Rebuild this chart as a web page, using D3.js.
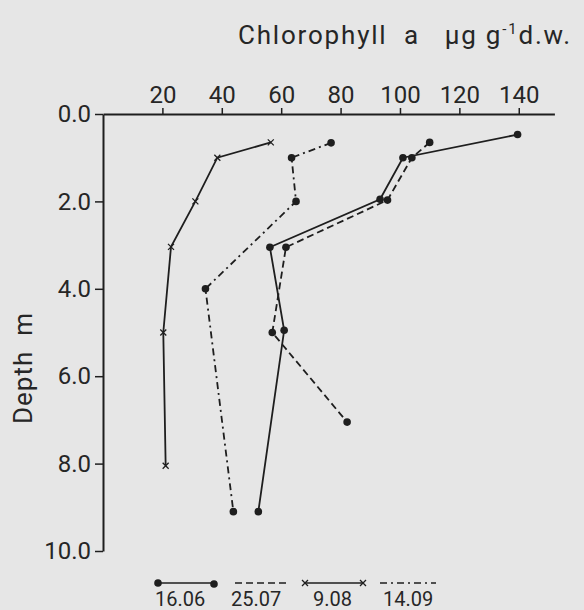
<!DOCTYPE html>
<html><head><meta charset="utf-8">
<script src="https://cdn.jsdelivr.net/npm/d3@7"></script>
<style>
html,body{margin:0;padding:0;background:#e6e6e6;}
svg{display:block;}
text{font-family:Roboto,"Noto Sans",sans-serif;fill:#262626;}
</style></head>
<body>
<script>
// ---- data ----
const seriesNames = ["16.06", "25.07", "9.08", "14.09"];
const depth_1606 = [0.47, 1.0, 1.95, 3.05, 4.95, 9.1];
const chl_1606   = [139.6, 101, 93.3, 56.2, 61, 52.3];
const depth_2507 = [0.65, 1.0, 1.97, 3.05, 5.0, 7.05];
const chl_2507   = [110, 104, 95.8, 61.6, 57, 82.2];
const depth_0908 = [0.65, 1.0, 2.0, 3.04, 5.0, 8.05];
const chl_0908   = [56.5, 38.5, 31.1, 22.9, 20.3, 21.1];
const depth_1409 = [0.66, 1.0, 2.0, 4.0, 9.1];
const chl_1409   = [76.8, 63.5, 65, 34.5, 43.9];
const xTicks = [20, 40, 60, 80, 100, 120, 140];
const yTicks = [0, 2, 4, 6, 8, 10];

const W = 584, H = 610;
const ink = "#1e1e1e";
const txt = "#262626";
const svg = d3.select("body").append("svg").attr("width", W).attr("height", H);
svg.append("rect").attr("width", W).attr("height", H).attr("fill", "#e6e6e6");

const x = d3.scaleLinear().domain([0, 152]).range([103, 554.4]);
const y = d3.scaleLinear().domain([0, 10]).range([114, 551]);

// axes
const gx = svg.append("g").attr("transform", `translate(0,${y(0)})`)
  .call(d3.axisTop(x).tickValues(xTicks).tickSize(6).tickPadding(5).tickSizeOuter(0));
const gy = svg.append("g").attr("transform", `translate(${x(0)},0)`)
  .call(d3.axisLeft(y).tickValues(yTicks).tickFormat(d3.format(".1f")).tickSize(8).tickPadding(4).tickSizeOuter(0));
[gx, gy].forEach(g => {
  g.select(".domain").attr("stroke", ink).attr("stroke-width", 2);
  g.selectAll(".tick line").attr("stroke", ink).attr("stroke-width", 1.5);
  g.selectAll(".tick text").attr("font-size", 24).attr("fill", txt)
    .style("font-family", "Roboto, sans-serif");
});

// title
const title = svg.append("text").attr("x", 572).attr("y", 44).attr("text-anchor", "end")
  .attr("font-size", 26).style("white-space", "pre").style("letter-spacing", "1.8px");
title.append("tspan").text("Chlorophyll  a   µg g");
title.append("tspan").attr("dy", -10).attr("font-size", 15).text("-1");
title.append("tspan").attr("dy", 10).text("d.w.");

svg.append("text").attr("transform", `translate(32,368) rotate(-90)`)
  .attr("text-anchor", "middle").attr("font-size", 26)
  .style("white-space", "pre").style("letter-spacing", "1px")
  .text("Depth  m");

// series
const series = [
  {name: seriesNames[0], d: depth_1606, v: chl_1606, dash: null, marker: "dot"},
  {name: seriesNames[1], d: depth_2507, v: chl_2507, dash: "7,4", marker: "dot"},
  {name: seriesNames[2], d: depth_0908, v: chl_0908, dash: null, marker: "cross"},
  {name: seriesNames[3], d: depth_1409, v: chl_1409, dash: "7,4,2,4", marker: "dot"}
];
const line = d3.line().x(p => x(p[0])).y(p => y(p[1]));
series.forEach(s => {
  const pts = s.v.map((v, i) => [v, s.d[i]]);
  svg.append("path").attr("d", line(pts)).attr("fill", "none")
    .attr("stroke", ink).attr("stroke-width", 1.8)
    .attr("stroke-dasharray", s.dash);
  pts.forEach(p => drawMarker(s.marker, x(p[0]), y(p[1])));
});

function drawMarker(type, cx, cy) {
  if (type === "dot") {
    svg.append("circle").attr("cx", cx).attr("cy", cy).attr("r", 3.8).attr("fill", ink);
  } else {
    const r = 3;
    svg.append("path").attr("d", `M${cx-r},${cy-r}L${cx+r},${cy+r}M${cx-r},${cy+r}L${cx+r},${cy-r}`)
      .attr("stroke", ink).attr("stroke-width", 1.3).attr("fill", "none");
  }
}

// legend
const legX = [158, 235, 305, 380];
const legLabelX = [155, 231, 313, 383];
const legLen = [56, 52, 58, 56];
series.forEach((s, i) => {
  const x0 = legX[i], x1 = legX[i] + legLen[i], ly = 583;
  svg.append("line").attr("x1", x0).attr("x2", x1).attr("y1", ly).attr("y2", ly)
    .attr("stroke", ink).attr("stroke-width", 1.6).attr("stroke-dasharray", s.dash);
  if (i === 0) { drawMarker("dot", x0, ly); drawMarker("dot", x1, ly + 1); }
  if (i === 2) { drawMarker("cross", x0, ly); drawMarker("cross", x1, ly); }
  svg.append("text").attr("x", legLabelX[i]).attr("y", 606).attr("font-size", 20)
    .text(s.name);
});
</script>
</body></html>
